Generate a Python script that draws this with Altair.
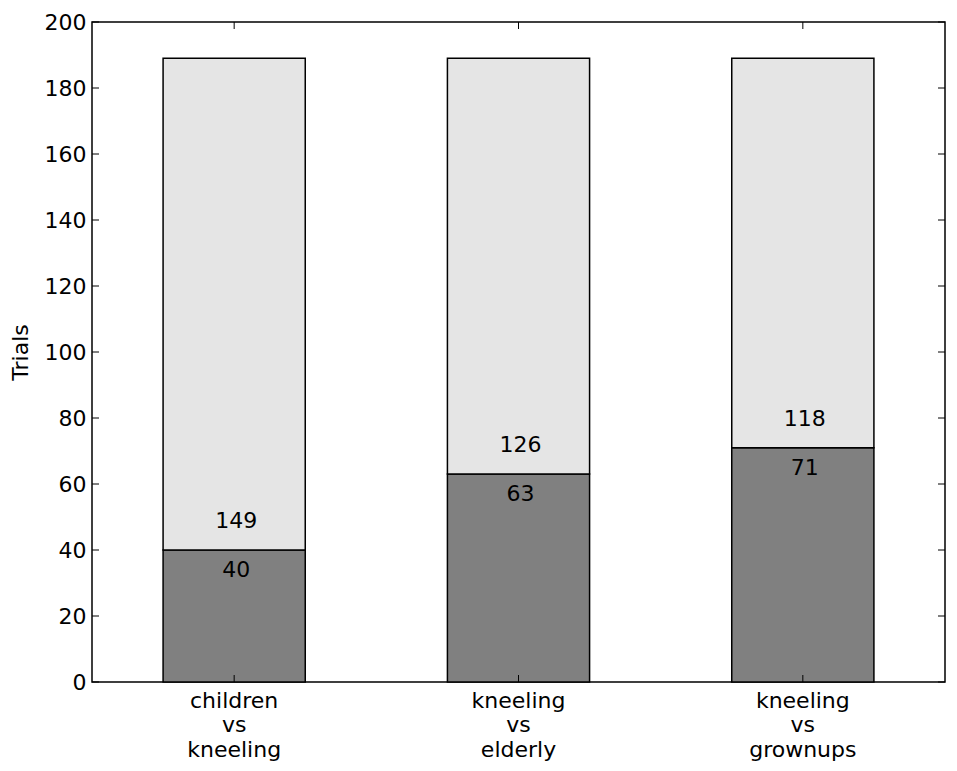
import altair as alt
import pandas as pd

categories = ["children\nvs\nkneeling", "kneeling\nvs\nelderly", "kneeling\nvs\ngrownups"]
bottom_values = [40, 63, 71]
top_values = [149, 126, 118]
y_ticks = [0, 20, 40, 60, 80, 100, 120, 140, 160, 180, 200]

W, H = 853, 660
FONT = "DejaVu Sans"

rows = []
for c, b, t in zip(categories, bottom_values, top_values):
    rows.append({"cat": c, "part": "bottom", "value": b, "order": 0})
    rows.append({"cat": c, "part": "top", "value": t, "order": 1})
bars_df = pd.DataFrame(rows)
lab_df = pd.DataFrame({"cat": categories, "bottom": bottom_values, "top": top_values})
tick_df = pd.DataFrame({"t": y_ticks})

xscale = alt.Scale(domain=categories, paddingInner=0.5, paddingOuter=0.25)
yscale = alt.Scale(domain=[0, 200], nice=False)

x_enc = alt.X("cat:N", scale=xscale, sort=categories,
              axis=alt.Axis(title=None, labelAngle=0, ticks=False, domain=False,
                            labelFont=FONT, labelFontSize=22, labelColor="black",
                            labelPadding=8, labelLineHeight=24.5,
                            labelExpr="split(datum.value, '\\n')"))

bars = alt.Chart(bars_df).mark_bar(stroke="black", strokeWidth=1.5).encode(
    x=x_enc,
    y=alt.Y("value:Q", stack="zero", scale=yscale,
            axis=alt.Axis(title="Trials", values=y_ticks, grid=False, ticks=False, domain=False,
                          labelFont=FONT, labelFontSize=22, labelColor="black", labelPadding=6,
                          titleFont=FONT, titleFontSize=22, titleFontWeight="normal",
                          titleColor="black", titlePadding=12)),
    color=alt.Color("part:N", scale=alt.Scale(domain=["bottom", "top"], range=["#808080", "#e5e5e5"]), legend=None),
    order=alt.Order("order:Q"),
)

txt_bottom = alt.Chart(lab_df).mark_text(font=FONT, fontSize=22, color="black", baseline="middle", dy=20, dx=2).encode(
    x=alt.X("cat:N", scale=xscale, sort=categories),
    y=alt.Y("bottom:Q", scale=yscale),
    text="bottom:Q",
)
txt_top = alt.Chart(lab_df).mark_text(font=FONT, fontSize=22, color="black", baseline="middle", dy=-29, dx=2).encode(
    x=alt.X("cat:N", scale=xscale, sort=categories),
    y=alt.Y("bottom:Q", scale=yscale),
    text="top:Q",
)

tl = alt.Chart(tick_df).mark_rule(color="black", strokeWidth=1).encode(
    y=alt.Y("t:Q", scale=yscale), x=alt.value(0), x2=alt.value(7))
tr = alt.Chart(tick_df).mark_rule(color="black", strokeWidth=1).encode(
    y=alt.Y("t:Q", scale=yscale), x=alt.value(W - 7), x2=alt.value(W))
tt = alt.Chart(lab_df).mark_rule(color="black", strokeWidth=1).encode(
    x=alt.X("cat:N", scale=xscale, sort=categories), y=alt.value(0), y2=alt.value(7))
tb = alt.Chart(lab_df).mark_rule(color="black", strokeWidth=1).encode(
    x=alt.X("cat:N", scale=xscale, sort=categories), y=alt.value(H - 7), y2=alt.value(H))

chart = alt.layer(bars, txt_bottom, txt_top, tl, tr, tt, tb).properties(
    width=W, height=H,
    background="white",
    autosize=alt.AutoSizeParams(type="none"),
    padding={"left": 84, "top": 14, "right": 4, "bottom": 80},
).configure_view(stroke="black", strokeWidth=1.5)

chart.save("out.html", embed_options={"renderer": "svg", "actions": False})
